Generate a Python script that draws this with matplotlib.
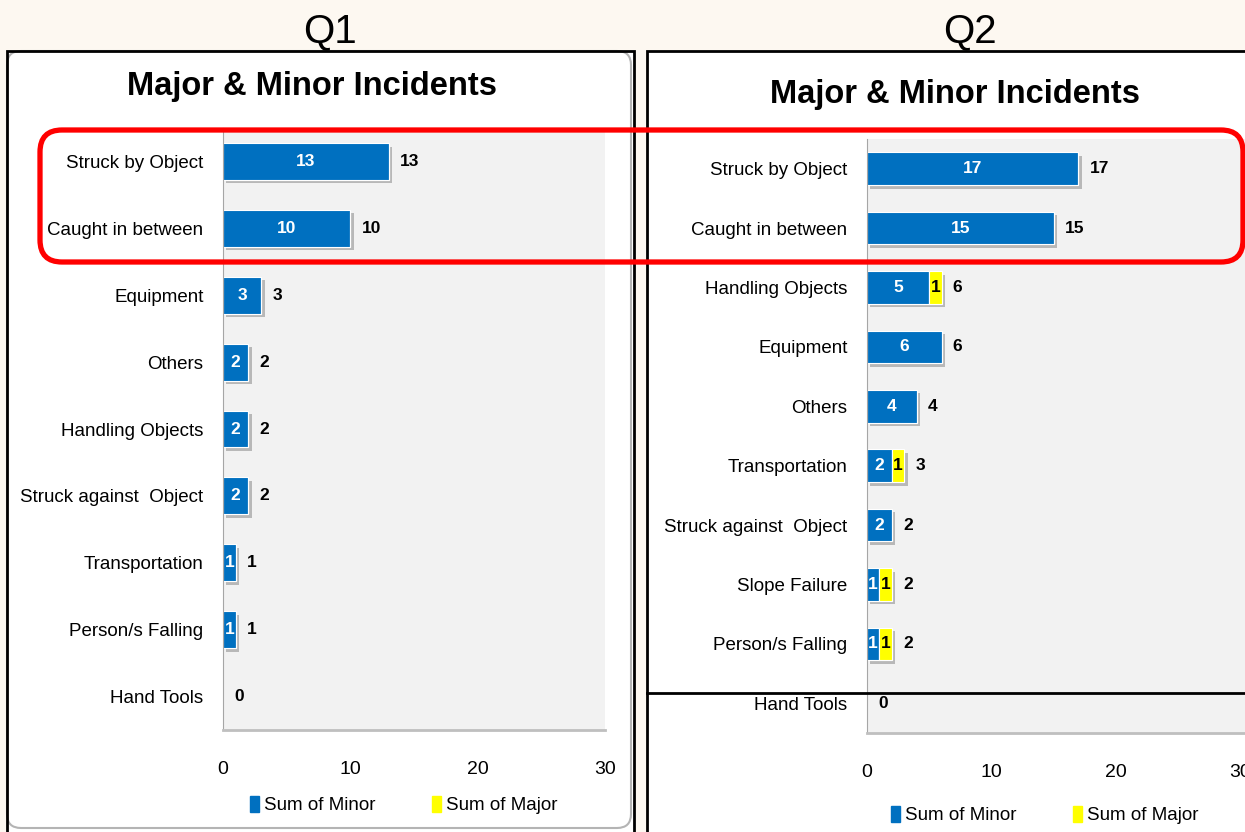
import matplotlib.pyplot as plt
from matplotlib import patheffects
from matplotlib.patches import Rectangle, FancyBboxPatch, Patch
from matplotlib.lines import Line2D
from matplotlib.transforms import IdentityTransform

W, H = 1245, 832

# Q1 data (top to bottom)
q1_categories = ['Struck by Object', 'Caught in between', 'Equipment', 'Others',
                 'Handling Objects', 'Struck against  Object', 'Transportation',
                 'Person/s Falling', 'Hand Tools']
q1_minor = [13, 10, 3, 2, 2, 2, 1, 1, 0]
q1_major = [0, 0, 0, 0, 0, 0, 0, 0, 0]

# Q2 data (top to bottom)
q2_categories = ['Struck by Object', 'Caught in between', 'Handling Objects', 'Equipment',
                 'Others', 'Transportation', 'Struck against  Object', 'Slope Failure',
                 'Person/s Falling', 'Hand Tools']
q2_minor = [17, 15, 5, 6, 4, 2, 2, 1, 1, 0]
q2_major = [0, 0, 1, 0, 0, 1, 0, 1, 1, 0]

xticks = [0, 10, 20, 30]
legend_labels = ['Sum of Minor', 'Sum of Major']

plt.rcParams['font.family'] = 'Liberation Sans'

BLUE = '#0070C0'
YELLOW = '#FFFF00'


def px_box(left, top, right, bottom):
    return [left / W, 1 - bottom / H, (right - left) / W, (bottom - top) / H]


def px_rect(left, top, right, bottom, **kw):
    r = Rectangle((left, H - bottom), right - left, bottom - top,
                  transform=IdentityTransform(), **kw)
    fig.add_artist(r)
    return r


def px_line(xs, ys, **kw):
    fig.add_artist(Line2D(xs, [H - v for v in ys], transform=IdentityTransform(), **kw))


fig = plt.figure(figsize=(W / 100, H / 100), dpi=100, facecolor='#fdf8f1')

# white chart frames
px_rect(7, 51, 634, 845, facecolor='white', edgecolor='none', zorder=-7)
px_rect(647, 51, 1260, 845, facecolor='white', edgecolor='none', zorder=-7)
# inner rounded border of the Q1 chart area
fig.add_artist(FancyBboxPatch((7, H - 828), 624, 777, boxstyle='round,pad=0,rounding_size=14',
                              transform=IdentityTransform(), fill=False, edgecolor='#b4b4b4',
                              linewidth=1.5, zorder=-6))
px_rect(7, 51, 634, 845, fill=False, edgecolor='black', linewidth=2, zorder=-5)
px_rect(647, 51, 1260, 845, fill=False, edgecolor='black', linewidth=2, zorder=-5)
px_line([647, 1245], [693, 693], color='black', linewidth=2, zorder=10)

fig.text(330 / W, 1 - 31 / H, 'Q1', fontsize=29, ha='center', va='center')
fig.text(970 / W, 1 - 31 / H, 'Q2', fontsize=29, ha='center', va='center')


def draw_chart(box, cats, minor, major, xmax, title_xy, legend_xy):
    ax = fig.add_axes(box)
    ax.set_facecolor('#f2f2f2')
    ys = list(range(len(cats)))
    shadow = [patheffects.withSimplePatchShadow(offset=(2.5, -2.5), shadow_rgbFace='#808080', alpha=0.5),
              patheffects.Normal()]
    b1 = ax.barh(ys, minor, height=0.55, color=BLUE, edgecolor='white', linewidth=0.8)
    b2 = ax.barh(ys, major, left=minor, height=0.55, color=YELLOW, edgecolor='white', linewidth=0.8)
    for p in list(b1) + list(b2):
        if p.get_width() > 0:
            p.set_path_effects(shadow)
    for i in ys:
        if minor[i] > 0:
            ax.text(minor[i] / 2, i, str(minor[i]), color='white', ha='center', va='center',
                    fontsize=12.5, fontweight='bold')
        if major[i] > 0:
            ax.text(minor[i] + major[i] / 2, i, str(major[i]), color='black', ha='center',
                    va='center', fontsize=12.5, fontweight='bold')
        total = minor[i] + major[i]
        ax.annotate(str(total), (total, i), xytext=(8, 0), textcoords='offset points',
                    ha='left', va='center', fontsize=12.5, fontweight='bold')
    ax.set_xlim(0, xmax)
    ax.set_ylim(len(cats) - 0.5, -0.5)
    ax.set_yticks(ys)
    ax.set_yticklabels(cats)
    ax.set_xticks(xticks)
    ax.tick_params(axis='y', length=0, pad=14, labelsize=13.5)
    ax.tick_params(axis='x', length=0, pad=22, labelsize=14)
    for s in ('top', 'right'):
        ax.spines[s].set_visible(False)
    ax.spines['left'].set_color('#a6a6a6')
    ax.spines['bottom'].set_color('#bfbfbf')
    ax.spines['bottom'].set_linewidth(2)

    fig.text(title_xy[0] / W, 1 - title_xy[1] / H, 'Major & Minor Incidents',
             fontsize=23.5, fontweight='bold', ha='center', va='center')
    fig.legend([Patch(color=BLUE), Patch(color=YELLOW)], legend_labels, loc='center',
               bbox_to_anchor=(legend_xy[0] / W, 1 - legend_xy[1] / H), ncol=2, frameon=False,
               handlelength=0.45, handleheight=1.0, handletextpad=0.3, columnspacing=3.0,
               fontsize=13.5)
    return ax


draw_chart(px_box(223, 128, 605, 730), q1_categories, q1_minor, q1_major, 30,
           (312, 86), (404, 805))
draw_chart(px_box(867, 139, 1245, 733), q2_categories, q2_minor, q2_major, 30.4,
           (955, 94), (1045, 815))

# red highlight around the top two categories
fig.add_artist(FancyBboxPatch((40, H - 262), 1203, 132, boxstyle='round,pad=0,rounding_size=22',
                              transform=IdentityTransform(), fill=False, edgecolor='#ff0000',
                              linewidth=3.8, zorder=10))

fig.savefig('out.png', dpi=100, facecolor=fig.get_facecolor())
